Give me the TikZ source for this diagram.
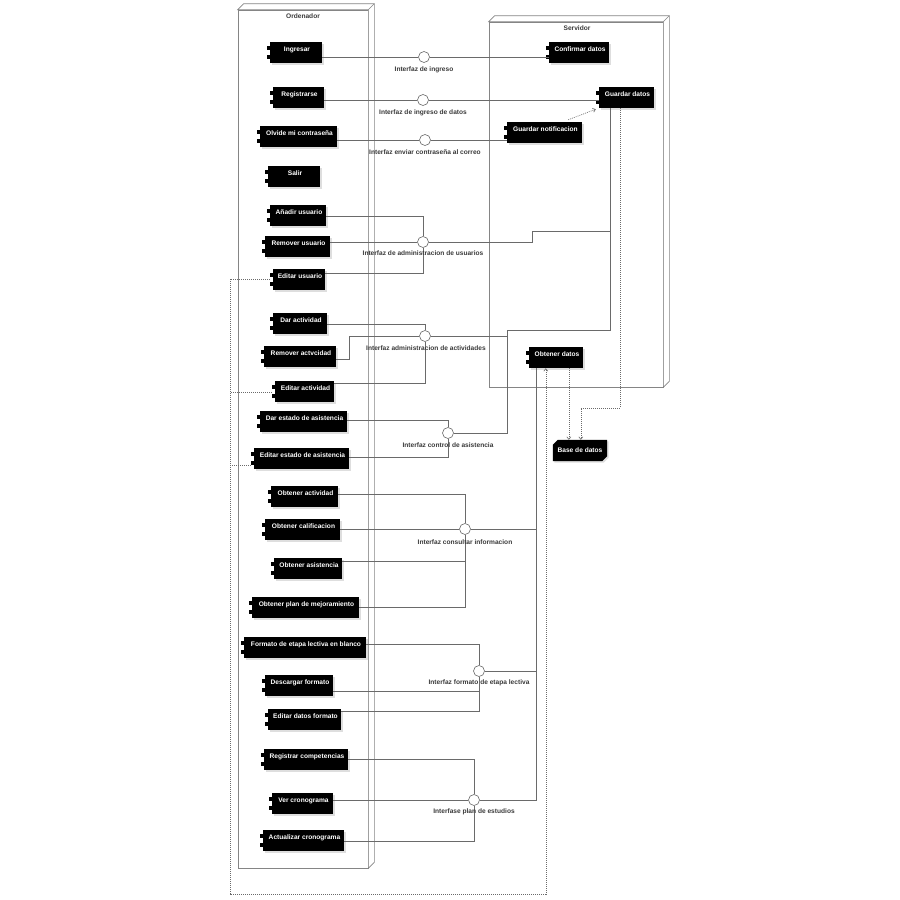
\documentclass[tikz,border=0pt]{standalone}
\usepackage{fontspec}
\setmainfont{Liberation Sans}
\usetikzlibrary{calc,arrows.meta}
\definecolor{linec}{HTML}{6A6A6A}
\definecolor{boxc}{HTML}{858585}
\definecolor{labc}{HTML}{3A3A3A}
\newcommand\comp[6]{%
  \fill[black!13] ({#2+1.5},{#3+1.5}) rectangle ({#4+1.5},{#5+1.5});
  \node[compbody, minimum width={#4-#2}, minimum height={#5-#3}] (#1) at ({(#2+#4)/2},{(#3+#5)/2}) {};
  \fill ($(#1.north west)+(-3,4)$) rectangle ++(5,4);
  \fill ($(#1.north west)+(-3,13)$) rectangle ++(5,4);
  \node[comptext] at ($(#1.north)+(1,4)$) {#6};
}
\begin{document}
\begin{tikzpicture}[x=1pt,y=-1pt,
  conn/.style={draw=linec, line width=0.6pt},
  dep/.style={draw=linec, line width=0.6pt, dash pattern=on 1pt off 1pt},
  tip/.style={-{Straight Barb[length=2.5pt,width=4pt]}},
  compbody/.style={fill=black, inner sep=0pt, draw=none},
  comptext/.style={text=white, font=\bfseries\fontsize{6.6}{7}\selectfont, inner sep=0pt, anchor=north, text height=5pt, text depth=1.5pt},
  iface/.style={circle, draw=linec, fill=white, line width=0.6pt, minimum size=11pt, inner sep=0pt},
  ilabel/.style={text=labc, font=\bfseries\fontsize{6.6}{7}\selectfont, inner sep=0pt},
  cont/.style={draw=boxc, fill=white, line width=0.6pt, inner sep=0pt},
]
\useasboundingbox (0,0) rectangle (900,900);
\fill[white] (0,0) rectangle (900,900);

% containers
\node[cont, minimum width=130, minimum height=858] (ordenador) at (303,439) {};
\draw[boxc, line width=0.6pt, fill=white] (ordenador.north west) -- ++(6,-6) -- ($(ordenador.north east)+(6,-6)$) -- ($(ordenador.south east)+(6,-6)$) -- (ordenador.south east) -- (ordenador.north east) -- cycle;
\draw[boxc, line width=0.6pt] (ordenador.north east) -- ++(6,-6);
\node[ilabel] (ordlab) at (303,16) {Ordenador};

\node[cont, minimum width=174, minimum height=365] (servidor) at (576,204.5) {};
\draw[boxc, line width=0.6pt, fill=white] (servidor.north west) -- ++(6,-6) -- ($(servidor.north east)+(6,-6)$) -- ($(servidor.south east)+(6,-6)$) -- (servidor.south east) -- (servidor.north east) -- cycle;
\draw[boxc, line width=0.6pt] (servidor.north east) -- ++(6,-6);
\node[ilabel] (servlab) at (577,28) {Servidor};

% interfaces
\node[iface] (i1) at (424,57) {};
\node[iface] (i2) at (423,100) {};
\node[iface] (i3) at (425,140) {};
\node[iface] (iu) at (423,242) {};
\node[iface] (ia) at (425,336) {};
\node[iface] (iasis) at (448,433) {};
\node[iface] (ic) at (465,529) {};
\node[iface] (ifm) at (479,671) {};
\node[iface] (ip) at (474,800) {};

% components (left)
\comp{ingresar}{270}{42}{322}{63}{Ingresar}
\comp{registrarse}{273}{87}{324}{108}{Registrarse}
\comp{olvide}{260}{126}{337}{147}{Olvide mi contraseña}
\comp{salir}{268}{166}{320}{187}{Salir}
\comp{anadir}{270}{205}{326}{226}{Añadir usuario}
\comp{removeru}{265}{236}{330}{257}{Remover usuario}
\comp{editaru}{273}{269}{325}{290}{Editar usuario}
\comp{daract}{273}{313}{327}{334}{Dar actividad}
\comp{removera}{264}{346}{336}{367}{Remover actvcidad}
\comp{editara}{275}{381}{334}{402}{Editar actividad}
\comp{darest}{260}{411}{347}{432}{Dar estado de asistencia}
\comp{editest}{254}{448}{349}{469}{Editar estado de asistencia}
\comp{obtact}{271}{486}{338}{507}{Obtener actividad}
\comp{obtcal}{265}{519}{340}{540}{Obtener calificacion}
\comp{obtasis}{274}{558}{342}{579}{Obtener asistencia}
\comp{obtplan}{252}{597}{359}{618}{Obtener plan de mejoramiento}
\comp{formato}{244}{637}{366}{658}{Formato de etapa lectiva en blanco}
\comp{descargar}{265}{675}{333}{696}{Descargar formato}
\comp{editdf}{268}{709}{341}{730}{Editar datos formato}
\comp{registrar}{264}{749}{348}{770}{Registrar competencias}
\comp{vercron}{272}{793}{333}{814}{Ver cronograma}
\comp{actcron}{263}{830}{344}{851}{Actualizar cronograma}
% components (server)
\comp{confirmar}{549}{42}{609}{63}{Confirmar datos}
\comp{guardar}{599}{87}{654}{108}{Guardar datos}
\comp{gnotif}{507}{122}{582}{143}{Guardar notificacion}
\comp{obtdatos}{529}{347}{583}{368}{Obtener datos}

% base de datos
\node[inner sep=0pt, minimum width=54, minimum height=21] (bdd) at (580,450.5) {};
\fill[black!13] ($(bdd.north west)+(6.5,1.5)$) -- ($(bdd.north east)+(1.5,1.5)$) -- ($(bdd.south east)+(1.5,-3.5)$) -- ($(bdd.south east)+(-3.5,1.5)$) -- ($(bdd.south west)+(1.5,1.5)$) -- ($(bdd.north west)+(1.5,6.5)$) -- cycle;
\fill ($(bdd.north west)+(5,0)$) -- (bdd.north east) -- ($(bdd.south east)+(0,-5)$) -- ($(bdd.south east)+(-5,0)$) -- (bdd.south west) -- ($(bdd.north west)+(0,5)$) -- cycle;
\node[comptext, anchor=center, text height=5pt, text depth=1.5pt] (bddtext) at (bdd.center) {Base de datos};

% junction coordinates
\coordinate (gdbot) at ($(guardar.south west)+(11,0)$);
\coordinate (gddot) at ($(guardar.south west)+(21,0)$);
\coordinate (odbot) at ($(obtdatos.south west)+(7,0)$);
\coordinate (odarr) at ($(obtdatos.south west)+(17,0)$);
\coordinate (oddot) at ($(obtdatos.south west)+(40,0)$);
\coordinate (bddin1) at ($(bdd.north west)+(16,0)$);
\coordinate (bddin2) at ($(bdd.north west)+(28,0)$);

% connectors : login
\draw[conn] (ingresar.east |- i1) -- (i1) -- (i1 -| confirmar.west);
\draw[conn] (registrarse.east |- i2) -- (i2) -- (i2 -| guardar.west);
\draw[conn] (olvide.east |- i3) -- (i3) -- (i3 -| gnotif.west);
\draw[dep, tip] ($(gnotif.north east)+(-14,-2)$) -- ($(guardar.south west)+(-3,1)$);

% usuarios
\draw[conn] (anadir.east |- 0,216) -| (iu);
\draw[conn] (removeru.east |- iu) -- (iu);
\draw[conn] (editaru.east |- 0,273) -| (iu);
\draw[conn] (iu) -- ++(109,0) |- (gdbot |- 0,231) -- (gdbot);

% actividades
\draw[conn] (daract.east |- 0,324) -| (ia);
\draw[conn] (removera.east |- 0,359) -- ++(13,0) |- (ia);
\draw[conn] (editara.east |- 0,383) -| (ia);
\draw[conn] (ia) -- (ia -| 507,0) |- (gdbot |- 0,330) -- (gdbot);

% asistencia
\draw[conn] (darest.east |- 0,420) -| (iasis);
\draw[conn] (editest.east |- 0,457) -| (iasis);
\draw[conn] (iasis) -- (iasis -| 507,0) -- (ia -| 507,0);

% consultar
\draw[conn] (obtact.east |- 0,494) -| (ic);
\draw[conn] (obtcal.east |- ic) -- (ic);
\draw[conn] (obtasis.east |- 0,561) -| (ic);
\draw[conn] (obtplan.east |- 0,607) -| (ic);
\draw[conn] (ic) -| (odbot);

% formato
\draw[conn] (formato.east |- 0,644) -| (ifm);
\draw[conn] (descargar.east |- 0,691) -| (ifm);
\draw[conn] (editdf.east |- 0,711) -| (ifm);
\draw[conn] (ifm) -| (odbot);

% plan
\draw[conn] (registrar.east |- 0,759) -| (ip);
\draw[conn] (vercron.east |- ip) -- (ip);
\draw[conn] (actcron.east |- 0,841) -| (ip);
\draw[conn] (ip) -| (odbot);

% dependencies
\coordinate (eu) at ($(editaru.west |- 0,279)+(-3,0)$);
\coordinate (ea) at ($(editara.west |- 0,392)+(-3,0)$);
\coordinate (ee) at ($(editest.west |- 0,465)+(-3,0)$);
\draw[dep, tip] (eu) -- (230,279) -- (230,894) -| (odarr);
\draw[dep] (ea) -- (230,392);
\draw[dep] (ee) -- (230,465);
\draw[dep, tip] (oddot) -- (bddin1);
\draw[dep, tip] (gddot) -- (gddot |- 0,408) -| (bddin2);

% interface labels
\node[ilabel] (l1) at (424,70) {Interfaz de ingreso};
\node[ilabel] (l2) at (423,113) {Interfaz de ingreso de datos};
\node[ilabel] (l3) at (425,152) {Interfaz enviar contraseña al correo};
\node[ilabel] (lu) at (423,253) {Interfaz de administracion de usuarios};
\node[ilabel] (la) at (426,348) {Interfaz administracion de actividades};
\node[ilabel] (lasis) at (448,445) {Interfaz control de asistencia};
\node[ilabel] (lc) at (465,542) {Interfaz consultar informacion};
\node[ilabel] (lfm) at (479,683) {Interfaz formato de etapa lectiva};
\node[ilabel] (lp) at (474,812) {Interfase plan de estudios};
\end{tikzpicture}
\end{document}
